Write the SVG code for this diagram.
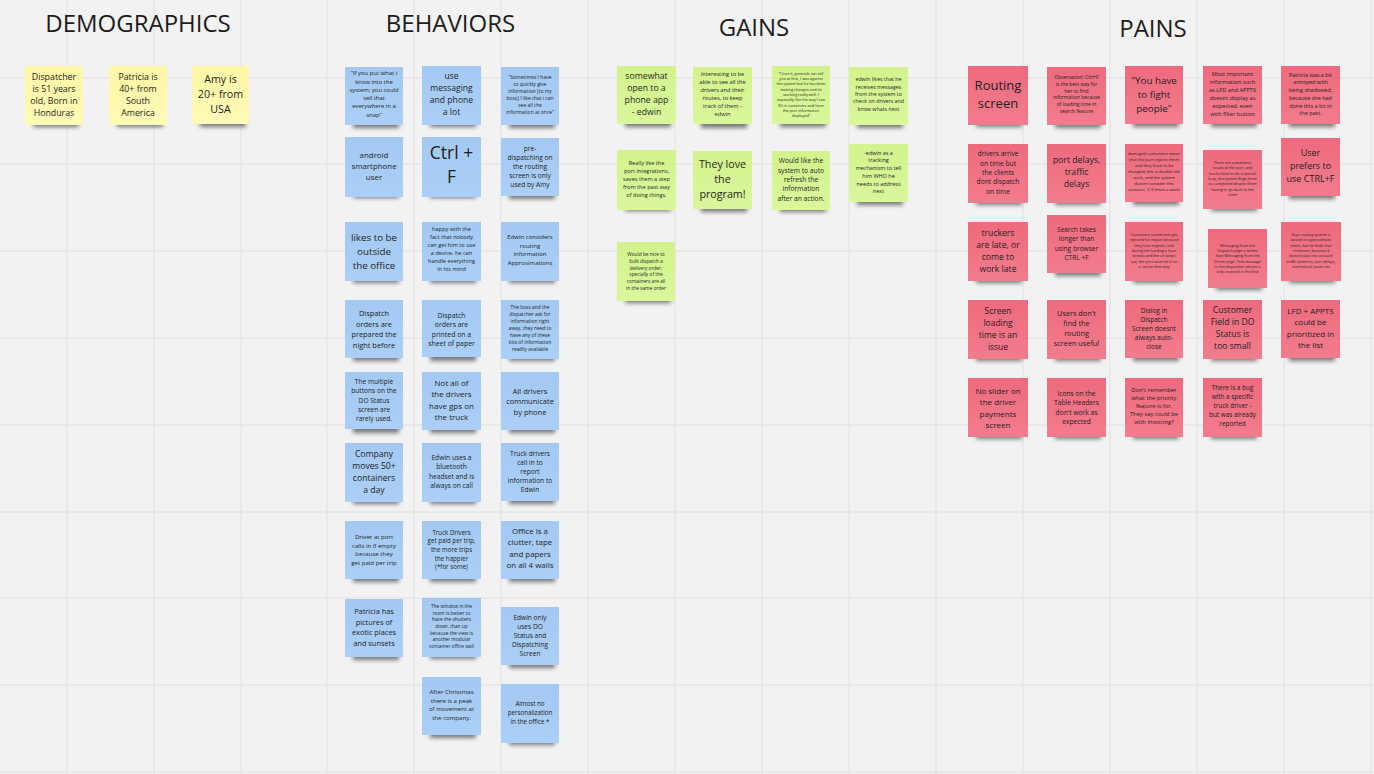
<svg xmlns="http://www.w3.org/2000/svg" width="1374" height="774" viewBox="0 0 1374 774">
  <defs>
    <style>
      .bg { fill: #f2f2f2; }
      .grid { stroke: #e6e6e6; stroke-width: 1.5; fill: none; }
      .title { font-family: "Open Sans", "Liberation Sans", sans-serif; font-size: 24px; fill: #1c1c1c; text-anchor: middle; }
      .sh { fill: #000; opacity: 0.5; }
      .yl { fill: url(#gy); }
      .bl { fill: url(#gb); }
      .gr { fill: url(#gg); }
      .pk { fill: url(#gp); }
      .t { font-family: "Open Sans", "Liberation Sans", sans-serif; fill: #1e1e1e; text-anchor: middle; dominant-baseline: central; }
    </style>
    <filter id="blur" x="-30%" y="-100%" width="160%" height="300%">
      <feGaussianBlur stdDeviation="2.2"/>
    </filter>
    <linearGradient id="gy" x1="0" y1="0" x2="0" y2="1"><stop offset="0" stop-color="#fef7a6"/><stop offset="1" stop-color="#fffab6"/></linearGradient>
    <linearGradient id="gb" x1="0" y1="0" x2="0" y2="1"><stop offset="0" stop-color="#a3c9f3"/><stop offset="1" stop-color="#abcff6"/></linearGradient>
    <linearGradient id="gg" x1="0" y1="0" x2="0" y2="1"><stop offset="0" stop-color="#d2f38c"/><stop offset="1" stop-color="#d9f79b"/></linearGradient>
    <linearGradient id="gp" x1="0" y1="0" x2="0" y2="1"><stop offset="0" stop-color="#ee6a7e"/><stop offset="1" stop-color="#f27c8d"/></linearGradient>
    <!-- drop shadow under each sticky note -->
    <rect id="shadow" class="sh" x="8" y="50" width="46" height="11" filter="url(#blur)"/>
  </defs>

  <rect class="bg" width="1374" height="774"/>
  <path class="grid" d="M67 0V774M154 0V774M241 0V774M327 0V774M414 0V774M501 0V774M588 0V774M675 0V774M762 0V774M849 0V774M936 0V774M1023 0V774M1110 0V774M1197 0V774M1284 0V774M1371 0V774M0 78H1374M0 164H1374M0 251H1374M0 338H1374M0 425H1374M0 512H1374M0 598H1374M0 685H1374M0 772H1374"/>

  <g id="titles">
    <text class="title" x="138" y="32">DEMOGRAPHICS</text>
    <text class="title" x="450.5" y="32">BEHAVIORS</text>
    <text class="title" x="754" y="36">GAINS</text>
    <text class="title" x="1153" y="37">PAINS</text>
  </g>

  <!-- no connectors on this board -->
  <g id="connectors"/>

  <g id="demographics">
    <g id="d1" transform="translate(25,66)"><use href="#shadow"/><rect class="yl" width="58" height="59"/><text class="t" x="29" y="29" font-size="8.8"><tspan x="29" dy="-2.1em">Dispatcher</tspan><tspan x="29" dy="1.4em">is 51 years</tspan><tspan x="29" dy="1.4em">old, Born in</tspan><tspan x="29" dy="1.4em">Honduras</tspan></text></g>
    <g id="d2" transform="translate(109,66)"><use href="#shadow"/><rect class="yl" width="58" height="59"/><text class="t" x="29" y="29" font-size="8.8"><tspan x="29" dy="-2.1em">Patricia is</tspan><tspan x="29" dy="1.4em">40+ from</tspan><tspan x="29" dy="1.4em">South</tspan><tspan x="29" dy="1.4em">America</tspan></text></g>
    <g id="d3" transform="translate(192,66)"><use href="#shadow"/><rect class="yl" width="57" height="58"/><text class="t" x="28.5" y="28" font-size="10.7"><tspan x="28.5" dy="-1.4em">Amy is</tspan><tspan x="28.5" dy="1.4em">20+ from</tspan><tspan x="28.5" dy="1.4em">USA</tspan></text></g>
  </g>

  <g id="behaviors">
    <g id="b1" transform="translate(345,67)"><use href="#shadow"/><rect class="bl" width="58" height="58"/><text class="t" x="29" y="27" font-size="5.9"><tspan x="29" dy="-3.5em">“If you put what i</tspan><tspan x="29" dy="1.4em">know into the</tspan><tspan x="29" dy="1.4em">system; you could</tspan><tspan x="29" dy="1.4em">sell that</tspan><tspan x="29" dy="1.4em">everywhere in a</tspan><tspan x="29" dy="1.4em">snap”</tspan></text></g>
    <g id="b2" transform="translate(422,66)"><use href="#shadow"/><rect class="bl" width="59" height="59"/><text class="t" x="29.5" y="28" font-size="8.6"><tspan x="29.5" dy="-2.1em">use</tspan><tspan x="29.5" dy="1.4em">messaging</tspan><tspan x="29.5" dy="1.4em">and phone</tspan><tspan x="29.5" dy="1.4em">a lot</tspan></text></g>
    <g id="b3" transform="translate(501,67)"><use href="#shadow"/><rect class="bl" width="58" height="58"/><text class="t" x="29" y="27" font-size="5"><tspan x="29" dy="-3.5em">“Sometimes I have</tspan><tspan x="29" dy="1.4em">to quickly give</tspan><tspan x="29" dy="1.4em">information [to my</tspan><tspan x="29" dy="1.4em">boss] I like that i can</tspan><tspan x="29" dy="1.4em">see all the</tspan><tspan x="29" dy="1.4em">information at once”</tspan></text></g>

    <g id="b4" transform="translate(345,137)"><use href="#shadow"/><rect class="bl" width="58" height="60"/><text class="t" x="29" y="29" font-size="7.9"><tspan x="29" dy="-1.4em">android</tspan><tspan x="29" dy="1.4em">smartphone</tspan><tspan x="29" dy="1.4em">user</tspan></text></g>
    <g id="b5" transform="translate(422,137)"><use href="#shadow"/><rect class="bl" width="59" height="60"/><text class="t" x="29.5" y="27" font-size="17.5"><tspan x="29.5" dy="-0.7em">Ctrl +</tspan><tspan x="29.5" dy="1.4em">F</tspan></text></g>
    <g id="b6" transform="translate(501,138)"><use href="#shadow"/><rect class="bl" width="58" height="58"/><text class="t" x="29" y="28" font-size="6.6"><tspan x="29" dy="-2.8em">pre-</tspan><tspan x="29" dy="1.4em">dispatching on</tspan><tspan x="29" dy="1.4em">the routing</tspan><tspan x="29" dy="1.4em">screen is only</tspan><tspan x="29" dy="1.4em">used by Amy</tspan></text></g>

    <g id="b7" transform="translate(345,222)"><use href="#shadow"/><rect class="bl" width="58" height="59"/><text class="t" x="29" y="29" font-size="9.8"><tspan x="29" dy="-1.4em">likes to be</tspan><tspan x="29" dy="1.4em">outside</tspan><tspan x="29" dy="1.4em">the office</tspan></text></g>
    <g id="b8" transform="translate(422,222)"><use href="#shadow"/><rect class="bl" width="59" height="59"/><text class="t" x="29.5" y="27" font-size="5.6"><tspan x="29.5" dy="-3.5em">happy with the</tspan><tspan x="29.5" dy="1.4em">fact that nobody</tspan><tspan x="29.5" dy="1.4em">can get him to use</tspan><tspan x="29.5" dy="1.4em">a device, he can</tspan><tspan x="29.5" dy="1.4em">handle everything</tspan><tspan x="29.5" dy="1.4em">in his mind</tspan></text></g>
    <g id="b9" transform="translate(501,222)"><use href="#shadow"/><rect class="bl" width="58" height="59"/><text class="t" x="29" y="28" font-size="6"><tspan x="29" dy="-2.1em">Edwin considers</tspan><tspan x="29" dy="1.4em">routing</tspan><tspan x="29" dy="1.4em">information</tspan><tspan x="29" dy="1.4em">Approximations</tspan></text></g>

    <g id="b10" transform="translate(345,300)"><use href="#shadow"/><rect class="bl" width="58" height="58"/><text class="t" x="29" y="29" font-size="7.4"><tspan x="29" dy="-2.1em">Dispatch</tspan><tspan x="29" dy="1.4em">orders are</tspan><tspan x="29" dy="1.4em">prepared the</tspan><tspan x="29" dy="1.4em">night before</tspan></text></g>
    <g id="b11" transform="translate(422,300)"><use href="#shadow"/><rect class="bl" width="59" height="57"/><text class="t" x="29.5" y="29" font-size="6.9"><tspan x="29.5" dy="-2.1em">Dispatch</tspan><tspan x="29.5" dy="1.4em">orders are</tspan><tspan x="29.5" dy="1.4em">printed on a</tspan><tspan x="29.5" dy="1.4em">sheet of paper</tspan></text></g>
    <g id="b12" transform="translate(501,300)"><use href="#shadow"/><rect class="bl" width="58" height="59"/><text class="t" x="29" y="28" font-size="4.9"><tspan x="29" dy="-4.2em">The boss and the</tspan><tspan x="29" dy="1.4em">dispatcher ask for</tspan><tspan x="29" dy="1.4em">information right</tspan><tspan x="29" dy="1.4em">away, they need to</tspan><tspan x="29" dy="1.4em">have any of these</tspan><tspan x="29" dy="1.4em">bits of information</tspan><tspan x="29" dy="1.4em">readily available</tspan></text></g>

    <g id="b13" transform="translate(345,372)"><use href="#shadow"/><rect class="bl" width="58" height="57"/><text class="t" x="29" y="27.5" font-size="6.6"><tspan x="29" dy="-2.8em">The multiple</tspan><tspan x="29" dy="1.4em">buttons on the</tspan><tspan x="29" dy="1.4em">DO Status</tspan><tspan x="29" dy="1.4em">screen are</tspan><tspan x="29" dy="1.4em">rarely used.</tspan></text></g>
    <g id="b14" transform="translate(422,372)"><use href="#shadow"/><rect class="bl" width="59" height="58"/><text class="t" x="29.5" y="27" font-size="8"><tspan x="29.5" dy="-2.1em">Not all of</tspan><tspan x="29.5" dy="1.4em">the drivers</tspan><tspan x="29.5" dy="1.4em">have gps on</tspan><tspan x="29.5" dy="1.4em">the truck</tspan></text></g>
    <g id="b15" transform="translate(501,372)"><use href="#shadow"/><rect class="bl" width="58" height="58"/><text class="t" x="29" y="29" font-size="7.5"><tspan x="29" dy="-1.4em">All drivers</tspan><tspan x="29" dy="1.4em">communicate</tspan><tspan x="29" dy="1.4em">by phone</tspan></text></g>

    <g id="b16" transform="translate(345,443)"><use href="#shadow"/><rect class="bl" width="58" height="59"/><text class="t" x="29" y="29" font-size="8.6"><tspan x="29" dy="-2.1em">Company</tspan><tspan x="29" dy="1.4em">moves 50+</tspan><tspan x="29" dy="1.4em">containers</tspan><tspan x="29" dy="1.4em">a day</tspan></text></g>
    <g id="b17" transform="translate(422,443)"><use href="#shadow"/><rect class="bl" width="59" height="59"/><text class="t" x="29.5" y="28" font-size="6.7"><tspan x="29.5" dy="-2.1em">Edwin uses a</tspan><tspan x="29.5" dy="1.4em">bluetooth</tspan><tspan x="29.5" dy="1.4em">headset and is</tspan><tspan x="29.5" dy="1.4em">always on call</tspan></text></g>
    <g id="b18" transform="translate(501,443)"><use href="#shadow"/><rect class="bl" width="58" height="58"/><text class="t" x="29" y="28" font-size="6.6"><tspan x="29" dy="-2.8em">Truck drivers</tspan><tspan x="29" dy="1.4em">call in to</tspan><tspan x="29" dy="1.4em">report</tspan><tspan x="29" dy="1.4em">information to</tspan><tspan x="29" dy="1.4em">Edwin</tspan></text></g>

    <g id="b19" transform="translate(345,521)"><use href="#shadow"/><rect class="bl" width="58" height="58"/><text class="t" x="29" y="28" font-size="6.1"><tspan x="29" dy="-2.1em">Driver at port</tspan><tspan x="29" dy="1.4em">calls in if empty</tspan><tspan x="29" dy="1.4em">because they</tspan><tspan x="29" dy="1.4em">get paid per trip</tspan></text></g>
    <g id="b20" transform="translate(422,521)"><use href="#shadow"/><rect class="bl" width="59" height="58"/><text class="t" x="29.5" y="28" font-size="6.2"><tspan x="29.5" dy="-2.8em">Truck Drivers</tspan><tspan x="29.5" dy="1.4em">get paid per trip,</tspan><tspan x="29.5" dy="1.4em">the more trips</tspan><tspan x="29.5" dy="1.4em">the happier</tspan><tspan x="29.5" dy="1.4em">(*for some)</tspan></text></g>
    <g id="b21" transform="translate(501,521)"><use href="#shadow"/><rect class="bl" width="58" height="58"/><text class="t" x="29" y="27" font-size="7.9"><tspan x="29" dy="-2.1em">Office is a</tspan><tspan x="29" dy="1.4em">clutter, tape</tspan><tspan x="29" dy="1.4em">and papers</tspan><tspan x="29" dy="1.4em">on all 4 walls</tspan></text></g>

    <g id="b22" transform="translate(345,599)"><use href="#shadow"/><rect class="bl" width="58" height="58"/><text class="t" x="29" y="28" font-size="7.4"><tspan x="29" dy="-2.1em">Patricia has</tspan><tspan x="29" dy="1.4em">pictures of</tspan><tspan x="29" dy="1.4em">exotic places</tspan><tspan x="29" dy="1.4em">and sunsets</tspan></text></g>
    <g id="b23" transform="translate(422,598)"><use href="#shadow"/><rect class="bl" width="59" height="59"/><text class="t" x="29.5" y="28" font-size="4.8"><tspan x="29.5" dy="-4.2em">The window in the</tspan><tspan x="29.5" dy="1.4em">room is better to</tspan><tspan x="29.5" dy="1.4em">have the shutters</tspan><tspan x="29.5" dy="1.4em">down, than up</tspan><tspan x="29.5" dy="1.4em">because the view is</tspan><tspan x="29.5" dy="1.4em">another modular</tspan><tspan x="29.5" dy="1.4em">container office wall</tspan></text></g>
    <g id="b24" transform="translate(501,607)"><use href="#shadow"/><rect class="bl" width="58" height="58"/><text class="t" x="29" y="28" font-size="6.6"><tspan x="29" dy="-2.8em">Edwin only</tspan><tspan x="29" dy="1.4em">uses DO</tspan><tspan x="29" dy="1.4em">Status and</tspan><tspan x="29" dy="1.4em">Dispatching</tspan><tspan x="29" dy="1.4em">Screen</tspan></text></g>

    <g id="b25" transform="translate(422,677)"><use href="#shadow"/><rect class="bl" width="59" height="58"/><text class="t" x="29.5" y="27" font-size="6.1"><tspan x="29.5" dy="-2.1em">After Christmas</tspan><tspan x="29.5" dy="1.4em">there is a peak</tspan><tspan x="29.5" dy="1.4em">of movement at</tspan><tspan x="29.5" dy="1.4em">the company.</tspan></text></g>
    <g id="b26" transform="translate(501,684)"><use href="#shadow"/><rect class="bl" width="58" height="59"/><text class="t" x="29" y="28" font-size="6.2"><tspan x="29" dy="-1.4em">Almost no</tspan><tspan x="29" dy="1.4em">personalization</tspan><tspan x="29" dy="1.4em">in the office *</tspan></text></g>
  </g>

  <g id="gains">
    <g id="g1" transform="translate(617,66)"><use href="#shadow"/><rect class="gr" width="59" height="58"/><text class="t" x="29.5" y="28" font-size="8.7"><tspan x="29.5" dy="-2.1em">somewhat</tspan><tspan x="29.5" dy="1.4em">open to a</tspan><tspan x="29.5" dy="1.4em">phone app</tspan><tspan x="29.5" dy="1.4em">- edwin</tspan></text></g>
    <g id="g2" transform="translate(693,67)"><use href="#shadow"/><rect class="gr" width="59" height="57"/><text class="t" x="29.5" y="27" font-size="5.7"><tspan x="29.5" dy="-3.5em">interesting to be</tspan><tspan x="29.5" dy="1.4em">able to see all the</tspan><tspan x="29.5" dy="1.4em">drivers and their</tspan><tspan x="29.5" dy="1.4em">routes, to keep</tspan><tspan x="29.5" dy="1.4em">track of them -</tspan><tspan x="29.5" dy="1.4em">edwin</tspan></text></g>
    <g id="g3" transform="translate(772,66)"><use href="#shadow"/><rect class="gr" width="58" height="58"/><text class="t" x="29" y="28" font-size="3.8"><tspan x="29" dy="-5.6em">“I love it, generals can tell</tspan><tspan x="29" dy="1.4em">you at first, I was against</tspan><tspan x="29" dy="1.4em">the system but he has been</tspan><tspan x="29" dy="1.4em">making changes and its</tspan><tspan x="29" dy="1.4em">working really well. I</tspan><tspan x="29" dy="1.4em">especially like the way I can</tspan><tspan x="29" dy="1.4em">fill in containers and have</tspan><tspan x="29" dy="1.4em">the port information</tspan><tspan x="29" dy="1.4em">displayed”</tspan></text></g>
    <g id="g4" transform="translate(849,67)"><use href="#shadow"/><rect class="gr" width="59" height="58"/><text class="t" x="29.5" y="27" font-size="5.3"><tspan x="29.5" dy="-2.8em">edwin likes that he</tspan><tspan x="29.5" dy="1.4em">receives messages</tspan><tspan x="29.5" dy="1.4em">from the system to</tspan><tspan x="29.5" dy="1.4em">check on drivers and</tspan><tspan x="29.5" dy="1.4em">know whats next</tspan></text></g>

    <g id="g5" transform="translate(617,150)"><use href="#shadow"/><rect class="gr" width="59" height="60"/><text class="t" x="29.5" y="29" font-size="5.6"><tspan x="29.5" dy="-2.8em">Really like the</tspan><tspan x="29.5" dy="1.4em">port integrations,</tspan><tspan x="29.5" dy="1.4em">saves them a step</tspan><tspan x="29.5" dy="1.4em">from the past way</tspan><tspan x="29.5" dy="1.4em">of doing things.</tspan></text></g>
    <g id="g6" transform="translate(693,151)"><use href="#shadow"/><rect class="gr" width="59" height="58"/><text class="t" x="29.5" y="28" font-size="10.7"><tspan x="29.5" dy="-1.4em">They love</tspan><tspan x="29.5" dy="1.4em">the</tspan><tspan x="29.5" dy="1.4em">program!</tspan></text></g>
    <g id="g7" transform="translate(772,151)"><use href="#shadow"/><rect class="gr" width="58" height="59"/><text class="t" x="29" y="28" font-size="6.7"><tspan x="29" dy="-2.8em">Would like the</tspan><tspan x="29" dy="1.4em">system to auto</tspan><tspan x="29" dy="1.4em">refresh the</tspan><tspan x="29" dy="1.4em">information</tspan><tspan x="29" dy="1.4em">after an action.</tspan></text></g>
    <g id="g8" transform="translate(849,144)"><use href="#shadow"/><rect class="gr" width="59" height="58"/><text class="t" x="29.5" y="28" font-size="5.5"><tspan x="29.5" dy="-3.5em">-edwin as a</tspan><tspan x="29.5" dy="1.4em">tracking</tspan><tspan x="29.5" dy="1.4em">mechanism to tell</tspan><tspan x="29.5" dy="1.4em">him WHO he</tspan><tspan x="29.5" dy="1.4em">needs to address</tspan><tspan x="29.5" dy="1.4em">next</tspan></text></g>

    <g id="g9" transform="translate(617,242)"><use href="#shadow"/><rect class="gr" width="58" height="59"/><text class="t" x="29" y="29" font-size="4.8"><tspan x="29" dy="-3.5em">Would be nice to</tspan><tspan x="29" dy="1.4em">bulk dispatch a</tspan><tspan x="29" dy="1.4em">delivery order,</tspan><tspan x="29" dy="1.4em">specially of the</tspan><tspan x="29" dy="1.4em">containers are all</tspan><tspan x="29" dy="1.4em">in the same order</tspan></text></g>
  </g>

  <g id="pains">
    <g id="p1" transform="translate(968,66)"><use href="#shadow"/><rect class="pk" width="60" height="59"/><text class="t" x="30" y="28" font-size="13"><tspan x="30" dy="-0.7em">Routing</tspan><tspan x="30" dy="1.4em">screen</tspan></text></g>
    <g id="p2" transform="translate(1047,67)"><use href="#shadow"/><rect class="pk" width="59" height="58"/><text class="t" x="29.5" y="27" font-size="4.9"><tspan x="29.5" dy="-3.5em">Observation: Ctrl+F</tspan><tspan x="29.5" dy="1.4em">is the best way for</tspan><tspan x="29.5" dy="1.4em">her to find</tspan><tspan x="29.5" dy="1.4em">information because</tspan><tspan x="29.5" dy="1.4em">of loading time in</tspan><tspan x="29.5" dy="1.4em">search feature</tspan></text></g>
    <g id="p3" transform="translate(1125,66)"><use href="#shadow"/><rect class="pk" width="58" height="58"/><text class="t" x="29" y="28" font-size="9.8"><tspan x="29" dy="-1.4em">"You have</tspan><tspan x="29" dy="1.4em">to fight</tspan><tspan x="29" dy="1.4em">people"</tspan></text></g>
    <g id="p4" transform="translate(1203,66)"><use href="#shadow"/><rect class="pk" width="59" height="58"/><text class="t" x="29.5" y="28" font-size="5.7"><tspan x="29.5" dy="-3.5em">Most important</tspan><tspan x="29.5" dy="1.4em">information such</tspan><tspan x="29.5" dy="1.4em">as LFD and APPTS</tspan><tspan x="29.5" dy="1.4em">doesnt display as</tspan><tspan x="29.5" dy="1.4em">expected, even</tspan><tspan x="29.5" dy="1.4em">with filter button</tspan></text></g>
    <g id="p5" transform="translate(1281,66)"><use href="#shadow"/><rect class="pk" width="59" height="58"/><text class="t" x="29.5" y="28" font-size="5.5"><tspan x="29.5" dy="-3.5em">Patricia was a bit</tspan><tspan x="29.5" dy="1.4em">annoyed with</tspan><tspan x="29.5" dy="1.4em">being shadowed,</tspan><tspan x="29.5" dy="1.4em">because she had</tspan><tspan x="29.5" dy="1.4em">done this a lot in</tspan><tspan x="29.5" dy="1.4em">the past.</tspan></text></g>

    <g id="p6" transform="translate(968,144)"><use href="#shadow"/><rect class="pk" width="60" height="59"/><text class="t" x="30" y="28" font-size="6.7"><tspan x="30" dy="-2.8em">drivers arrive</tspan><tspan x="30" dy="1.4em">on time but</tspan><tspan x="30" dy="1.4em">the clients</tspan><tspan x="30" dy="1.4em">dont dispatch</tspan><tspan x="30" dy="1.4em">on time</tspan></text></g>
    <g id="p7" transform="translate(1047,144)"><use href="#shadow"/><rect class="pk" width="59" height="59"/><text class="t" x="29.5" y="28" font-size="8.7"><tspan x="29.5" dy="-1.4em">port delays,</tspan><tspan x="29.5" dy="1.4em">traffic</tspan><tspan x="29.5" dy="1.4em">delays</tspan></text></g>
    <g id="p8" transform="translate(1125,144)"><use href="#shadow"/><rect class="pk" width="58" height="58"/><text class="t" x="29" y="27" font-size="4.2"><tspan x="29" dy="-4.2em">damaged containers mean</tspan><tspan x="29" dy="1.4em">that the port rejects them</tspan><tspan x="29" dy="1.4em">and they have to be</tspan><tspan x="29" dy="1.4em">changed; this is double the</tspan><tspan x="29" dy="1.4em">work, and the system</tspan><tspan x="29" dy="1.4em">doesnt consider this</tspan><tspan x="29" dy="1.4em">scenario, 2-3 times a week</tspan></text></g>
    <g id="p9" transform="translate(1203,150)"><use href="#shadow"/><rect class="pk" width="59" height="59"/><text class="t" x="29.5" y="28" font-size="3.8"><tspan x="29.5" dy="-4.2em">There are sometimes</tspan><tspan x="29.5" dy="1.4em">issues at the port, and</tspan><tspan x="29.5" dy="1.4em">trucks have to do a special</tspan><tspan x="29.5" dy="1.4em">loop, the system flags them</tspan><tspan x="29.5" dy="1.4em">as completed despite them</tspan><tspan x="29.5" dy="1.4em">having to go back to the</tspan><tspan x="29.5" dy="1.4em">client</tspan></text></g>
    <g id="p10" transform="translate(1281,138)"><use href="#shadow"/><rect class="pk" width="59" height="58"/><text class="t" x="29.5" y="27" font-size="9"><tspan x="29.5" dy="-1.4em">User</tspan><tspan x="29.5" dy="1.4em">prefers to</tspan><tspan x="29.5" dy="1.4em">use CTRL+F</tspan></text></g>

    <g id="p11" transform="translate(968,222)"><use href="#shadow"/><rect class="pk" width="60" height="59"/><text class="t" x="30" y="29" font-size="8.6"><tspan x="30" dy="-2.1em">truckers</tspan><tspan x="30" dy="1.4em">are late, or</tspan><tspan x="30" dy="1.4em">come to</tspan><tspan x="30" dy="1.4em">work late</tspan></text></g>
    <g id="p12" transform="translate(1047,215)"><use href="#shadow"/><rect class="pk" width="59" height="58"/><text class="t" x="29.5" y="28" font-size="6.6"><tspan x="29.5" dy="-2.1em">Search takes</tspan><tspan x="29.5" dy="1.4em">longer than</tspan><tspan x="29.5" dy="1.4em">using browser</tspan><tspan x="29.5" dy="1.4em">CTRL +F</tspan></text></g>
    <g id="p13" transform="translate(1125,222)"><use href="#shadow"/><rect class="pk" width="58" height="59"/><text class="t" x="29" y="28" font-size="3.8"><tspan x="29" dy="-4.2em">Containers sometimes get</tspan><tspan x="29" dy="1.4em">rejected for export because</tspan><tspan x="29" dy="1.4em">they lose engines, and</tspan><tspan x="29" dy="1.4em">during the loading a hose</tspan><tspan x="29" dy="1.4em">breaks and the oil seeps</tspan><tspan x="29" dy="1.4em">out, the port wont let it on</tspan><tspan x="29" dy="1.4em">a carrier that way</tspan></text></g>
    <g id="p14" transform="translate(1208,229)"><use href="#shadow"/><rect class="pk" width="59" height="59"/><text class="t" x="29.5" y="29" font-size="3.8"><tspan x="29.5" dy="-3.5em">Messaging from the</tspan><tspan x="29.5" dy="1.4em">Dispatch page is better</tspan><tspan x="29.5" dy="1.4em">than Messaging from the</tspan><tspan x="29.5" dy="1.4em">Driver page. Text message</tspan><tspan x="29.5" dy="1.4em">to the dispatcher phone is</tspan><tspan x="29.5" dy="1.4em">only received in the first</tspan></text></g>
    <g id="p15" transform="translate(1281,222)"><use href="#shadow"/><rect class="pk" width="60" height="59"/><text class="t" x="30" y="28" font-size="3.8"><tspan x="30" dy="-4.2em">Says routing system is</tspan><tspan x="30" dy="1.4em">based on approximate</tspan><tspan x="30" dy="1.4em">times, but he finds that</tspan><tspan x="30" dy="1.4em">irrelevant, because it</tspan><tspan x="30" dy="1.4em">doesnt take into account</tspan><tspan x="30" dy="1.4em">traffic patterns, port delays,</tspan><tspan x="30" dy="1.4em">mechanical issues etc</tspan></text></g>

    <g id="p16" transform="translate(968,300)"><use href="#shadow"/><rect class="pk" width="60" height="59"/><text class="t" x="30" y="28" font-size="8.5"><tspan x="30" dy="-2.1em">Screen</tspan><tspan x="30" dy="1.4em">loading</tspan><tspan x="30" dy="1.4em">time is an</tspan><tspan x="30" dy="1.4em">issue</tspan></text></g>
    <g id="p17" transform="translate(1047,300)"><use href="#shadow"/><rect class="pk" width="59" height="59"/><text class="t" x="29.5" y="28" font-size="7.3"><tspan x="29.5" dy="-2.1em">Users don't</tspan><tspan x="29.5" dy="1.4em">find the</tspan><tspan x="29.5" dy="1.4em">routing</tspan><tspan x="29.5" dy="1.4em">screen useful</tspan></text></g>
    <g id="p18" transform="translate(1125,300)"><use href="#shadow"/><rect class="pk" width="58" height="58"/><text class="t" x="29" y="28" font-size="6.6"><tspan x="29" dy="-2.8em">Dialog in</tspan><tspan x="29" dy="1.4em">Dispatch</tspan><tspan x="29" dy="1.4em">Screen doesnt</tspan><tspan x="29" dy="1.4em">always auto-</tspan><tspan x="29" dy="1.4em">close</tspan></text></g>
    <g id="p19" transform="translate(1203,300)"><use href="#shadow"/><rect class="pk" width="59" height="59"/><text class="t" x="29.5" y="28" font-size="8.6"><tspan x="29.5" dy="-2.1em">Customer</tspan><tspan x="29.5" dy="1.4em">Field in DO</tspan><tspan x="29.5" dy="1.4em">Status is</tspan><tspan x="29.5" dy="1.4em">too small</tspan></text></g>
    <g id="p20" transform="translate(1281,300)"><use href="#shadow"/><rect class="pk" width="59" height="58"/><text class="t" x="29.5" y="27" font-size="8"><tspan x="29.5" dy="-2.1em">LFD + APPTS</tspan><tspan x="29.5" dy="1.4em">could be</tspan><tspan x="29.5" dy="1.4em">prioritized in</tspan><tspan x="29.5" dy="1.4em">the list</tspan></text></g>

    <g id="p21" transform="translate(968,378)"><use href="#shadow"/><rect class="pk" width="60" height="59"/><text class="t" x="30" y="29" font-size="8"><tspan x="30" dy="-2.1em">No slider on</tspan><tspan x="30" dy="1.4em">the driver</tspan><tspan x="30" dy="1.4em">payments</tspan><tspan x="30" dy="1.4em">screen</tspan></text></g>
    <g id="p22" transform="translate(1047,378)"><use href="#shadow"/><rect class="pk" width="59" height="59"/><text class="t" x="29.5" y="29" font-size="6.7"><tspan x="29.5" dy="-2.1em">Icons on the</tspan><tspan x="29.5" dy="1.4em">Table Headers</tspan><tspan x="29.5" dy="1.4em">don't work as</tspan><tspan x="29.5" dy="1.4em">expected</tspan></text></g>
    <g id="p23" transform="translate(1125,378)"><use href="#shadow"/><rect class="pk" width="58" height="59"/><text class="t" x="29" y="28" font-size="5.8"><tspan x="29" dy="-2.8em">Don't remember</tspan><tspan x="29" dy="1.4em">what the priority</tspan><tspan x="29" dy="1.4em">feature is for.</tspan><tspan x="29" dy="1.4em">They say could be</tspan><tspan x="29" dy="1.4em">with invoicing?</tspan></text></g>
    <g id="p24" transform="translate(1203,378)"><use href="#shadow"/><rect class="pk" width="59" height="59"/><text class="t" x="29.5" y="27" font-size="6.4"><tspan x="29.5" dy="-2.8em">There is a bug</tspan><tspan x="29.5" dy="1.4em">with a specific</tspan><tspan x="29.5" dy="1.4em">truck driver -</tspan><tspan x="29.5" dy="1.4em">but was already</tspan><tspan x="29.5" dy="1.4em">reported</tspan></text></g>
  </g>
</svg>
